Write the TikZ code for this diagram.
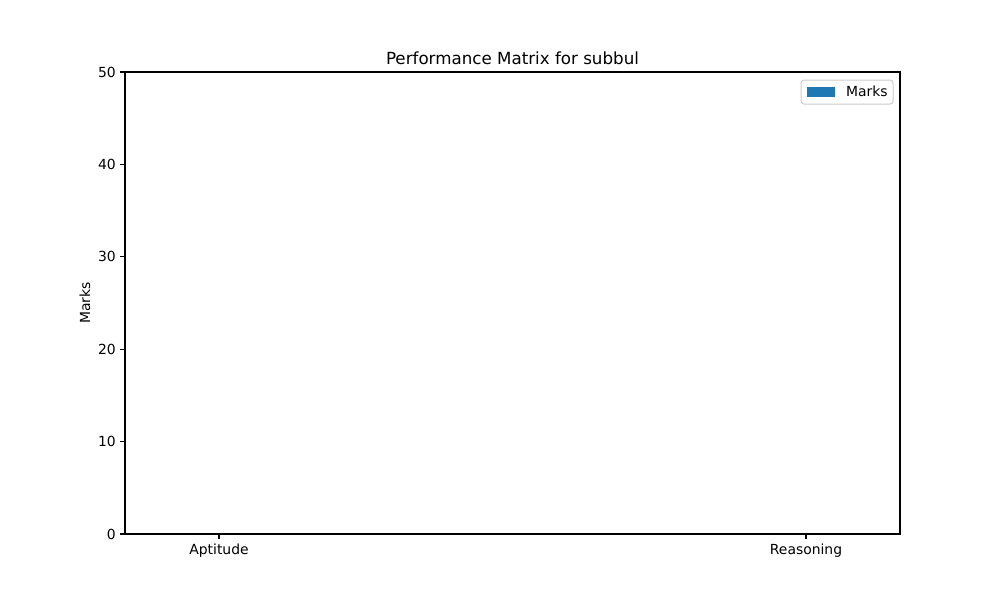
\documentclass[tikz,border=0pt]{standalone}
\usepackage{fontspec}
\setmainfont{DejaVu Sans}
\definecolor{mplblue}{HTML}{1F77B4}
\definecolor{leggray}{HTML}{CCCCCC}
\begin{document}
\begin{tikzpicture}[x=1pt,y=-1pt,
  tick/.style={line width=1.1pt},
  ticklab/.style={font=\fontsize{13.9}{16}\selectfont, inner sep=0pt},
  axisframe/.style={draw=black, line width=1.1pt}]
\useasboundingbox (0,0) rectangle (1000,600);
\fill[white] (0,0) rectangle (1000,600);
% axes frame
\coordinate (tl) at (125,72);
\coordinate (br) at (900,534);
\draw[axisframe] (tl) rectangle (br);
% y ticks
\foreach \v [count=\i from 0] in {0,10,20,30,40,50} {
  \pgfmathsetmacro{\yy}{534-92.4*\i}
  \coordinate (yt\i) at (125,\yy);
  \coordinate (ys\i) at (120,\yy);
  \draw[tick] (ys\i) -- (yt\i);
  \node[ticklab, anchor=east] (yl\i) at (116,\yy) {\v};
}
% x ticks
\coordinate (xa) at (219,534);
\coordinate (xas) at (219,539);
\coordinate (xb) at (806,534);
\coordinate (xbs) at (806,539);
\draw[tick] (xa) -- (xas);
\draw[tick] (xb) -- (xbs);
\node[ticklab, anchor=north] (xla) at (219,544) {Aptitude};
\node[ticklab, anchor=north] (xlb) at (806,544) {Reasoning};
% y label
\node[ticklab, rotate=90] (ylab) at (85,303) {Marks};
% title
\node[font=\fontsize{16.7}{19}\selectfont, inner sep=0pt, anchor=base] (title) at (512.5,64) {Performance Matrix for subbul};
% legend
\draw[draw=leggray, fill=white, rounded corners=3pt, line width=1pt] (801,80) rectangle (893,104);
\fill[mplblue] (807,87) rectangle (835,96.5);
\node[ticklab, anchor=west] (leg) at (846,91.5) {Marks};
\end{tikzpicture}
\end{document}
